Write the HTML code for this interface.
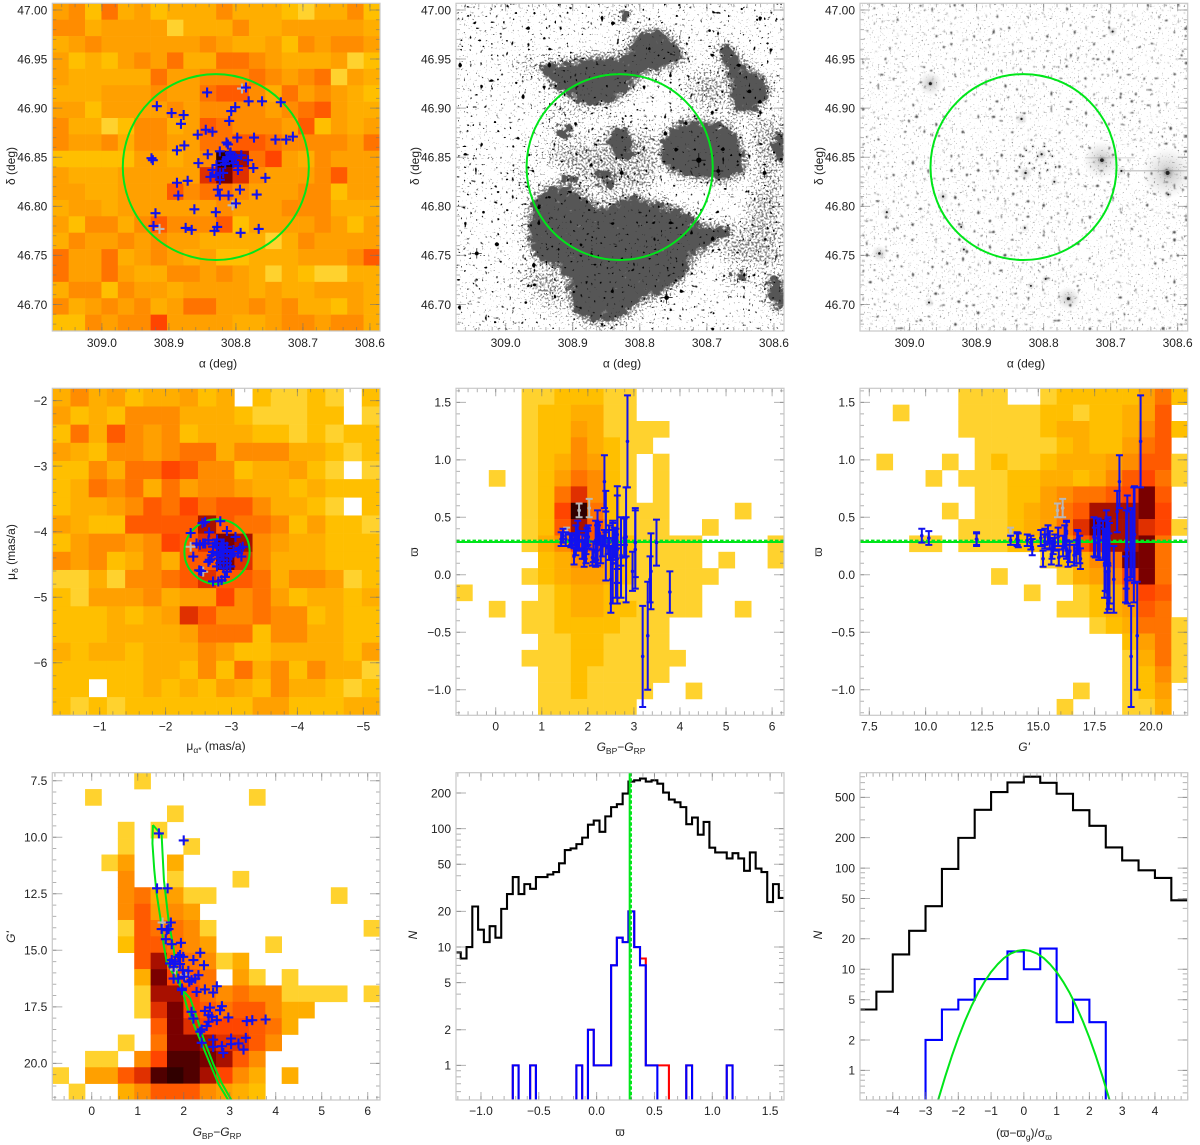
<!DOCTYPE html>
<html>
<head>
<meta charset="utf-8">
<title>Cluster diagnostic figure</title>
<style>
html,body{margin:0;padding:0;background:#fff}
svg{display:block}
text{font-family:"Liberation Sans","DejaVu Sans",sans-serif;fill:#222;font-size:12px}
</style>
</head>
<body>
<svg id="figure" xmlns="http://www.w3.org/2000/svg" width="1200" height="1145" viewBox="0 0 1200 1145">
<defs>
<clipPath id="clip-p2"><rect x="456" y="3.3" width="328" height="327.7"/></clipPath>
<clipPath id="clip-p3"><rect x="860" y="3.3" width="327.7" height="327.7"/></clipPath>
<radialGradient id="glow"><stop offset="0" stop-color="#222" stop-opacity=".55"/><stop offset=".25" stop-color="#555" stop-opacity=".24"/><stop offset="1" stop-color="#888" stop-opacity="0"/></radialGradient>
<filter id="nebula-core" filterUnits="userSpaceOnUse" x="456" y="3" width="329" height="329" color-interpolation-filters="sRGB">
<feGaussianBlur in="SourceAlpha" stdDeviation="5" result="b"/>
<feTurbulence type="fractalNoise" baseFrequency=".13" numOctaves="5" seed="11"/>
<feColorMatrix type="matrix" values="0 0 0 0 0 0 0 0 0 0 0 0 0 0 0 1 0 0 0 0" result="n"/>
<feComposite in="b" in2="n" operator="arithmetic" k1="0" k2="1" k3="1.3" k4="-.65"/>
<feComponentTransfer result="m"><feFuncA type="linear" slope="7" intercept="-3.5"/></feComponentTransfer>
<feFlood flood-color="#565656"/>
<feComposite in2="m" operator="in"/>
</filter>
<filter id="nebula-halo" filterUnits="userSpaceOnUse" x="456" y="3" width="329" height="329" color-interpolation-filters="sRGB">
<feGaussianBlur in="SourceAlpha" stdDeviation="9" result="b"/>
<feTurbulence type="fractalNoise" baseFrequency=".5" numOctaves="2" seed="5"/>
<feColorMatrix type="matrix" values="0 0 0 0 0 0 0 0 0 0 0 0 0 0 0 1 0 0 0 0" result="n"/>
<feComposite in="b" in2="n" operator="arithmetic" k1="0" k2="1" k3="1.5" k4="-.75"/>
<feComponentTransfer result="m"><feFuncA type="linear" slope="7" intercept="-2.45"/></feComponentTransfer>
<feFlood flood-color="#808080"/>
<feComposite in2="m" operator="in"/>
</filter>
<filter id="stars-small" filterUnits="userSpaceOnUse" x="456" y="3" width="329" height="329" color-interpolation-filters="sRGB">
<feTurbulence type="fractalNoise" baseFrequency=".33" numOctaves="1" seed="3"/>
<feColorMatrix type="matrix" values="0 0 0 0 0 0 0 0 0 0 0 0 0 0 0 16 0 0 0 -11"/>
</filter>
<filter id="stars-large" filterUnits="userSpaceOnUse" x="456" y="3" width="329" height="329" color-interpolation-filters="sRGB">
<feTurbulence type="fractalNoise" baseFrequency=".19" numOctaves="1" seed="21"/>
<feColorMatrix type="matrix" values="0 0 0 0 0 0 0 0 0 0 0 0 0 0 0 18 0 0 0 -12.5"/>
</filter>
<filter id="ir-fine" filterUnits="userSpaceOnUse" x="860" y="3" width="329" height="329" color-interpolation-filters="sRGB">
<feTurbulence type="fractalNoise" baseFrequency=".5" numOctaves="2" seed="9"/>
<feColorMatrix type="matrix" values="0 0 0 0 .55 0 0 0 0 .55 0 0 0 0 .55 8 0 0 0 -5.4"/>
<feGaussianBlur stdDeviation=".35"/>
</filter>
<filter id="ir-dots" filterUnits="userSpaceOnUse" x="860" y="3" width="329" height="329" color-interpolation-filters="sRGB">
<feTurbulence type="fractalNoise" baseFrequency=".26" numOctaves="1" seed="17"/>
<feColorMatrix type="matrix" values="0 0 0 0 .3 0 0 0 0 .3 0 0 0 0 .3 16 0 0 0 -11"/>
<feGaussianBlur stdDeviation=".45"/>
</filter>
<g id="nebula-shapes" transform="translate(400,0) scale(.33333)">
<polygon points="400,590 470,560 560,590 600,640 660,600 700,590 800,620 860,640 900,680 1000,680 1030,690 960,720 880,760 860,820 800,870 720,900 660,960 560,965 510,920 510,830 470,800 400,770 385,700"/>
<polygon points="400,190 500,190 590,170 680,180 700,110 770,85 830,130 860,180 800,200 720,220 700,250 640,310 540,310 470,260 430,220"/>
<polygon points="930,110 1000,150 1030,200 1090,230 1110,290 1060,330 1000,340 1000,280 985,230 960,160"/>
<polygon points="790,410 850,360 930,370 980,370 1030,450 1045,510 960,545 900,530 820,520 780,480"/>
<polygon points="470,370 525,380 510,420 480,430"/>
<polygon points="640,380 660,370 700,420 720,450 690,480 640,470 620,420"/>
<polygon points="580,520 640,510 660,550 600,570"/>
<polygon points="470,520 550,520 540,550 470,540"/>
<polygon points="970,820 1060,815 1050,835 990,850"/>
<polygon points="1110,400 1152,380 1152,500 1120,480"/>
<polygon points="640,50 680,20 700,40 670,70"/>
<polygon points="1100,830 1152,820 1152,960 1110,900"/>
</g>
<g id="nebula-faint" transform="translate(400,0) scale(.33333)" fill-opacity=".38">
<polygon points="860,200 1000,220 1000,330 900,340 850,280"/>
<polygon points="1040,560 1152,560 1152,820 1000,800 900,720 1030,680"/>
<polygon points="290,170 420,170 430,250 330,200"/>
<polygon points="320,500 400,490 400,600 360,560"/>
<polygon points="1040,340 1152,340 1152,560 1060,540"/>
<polygon points="400,300 640,320 560,360 430,340"/>
<polygon points="420,430 760,380 800,480 740,600 560,560 430,480"/>
<polygon points="350,780 500,800 500,960 380,880"/>
<polygon points="180,20 220,20 200,90"/>
</g>
</defs>
<rect x="0" y="0" width="1200" height="1145" fill="#fff"/>

<g id="image-optical" clip-path="url(#clip-p2)">
<use href="#nebula-faint" filter="url(#nebula-halo)"/>
<use href="#nebula-shapes" filter="url(#nebula-halo)"/>
<use href="#nebula-shapes" filter="url(#nebula-core)"/>
<rect x="456" y="3" width="329" height="329" filter="url(#stars-small)"/>
<rect x="456" y="3" width="329" height="329" filter="url(#stars-large)"/>
</g>
<g id="image-infrared" clip-path="url(#clip-p3)">
<rect x="860" y="3" width="329" height="329" filter="url(#ir-fine)"/>
<rect x="860" y="3" width="329" height="329" filter="url(#ir-dots)"/>
<rect x="1122" y="170" width="66" height="1.5" fill="#ccc"/>
<rect x="1085" y="157" width="50" height="1.5" fill="#e2e2e2"/>
</g>

<g id="plots"></g>

<g>
<text x="218" y="367.5" text-anchor="middle">α (deg)</text>
<text x="622" y="367.5" text-anchor="middle">α (deg)</text>
<text x="1026" y="367.5" text-anchor="middle">α (deg)</text>
<text transform="translate(15,166) rotate(-90)" text-anchor="middle">δ (deg)</text>
<text transform="translate(419,166) rotate(-90)" text-anchor="middle">δ (deg)</text>
<text transform="translate(823,166) rotate(-90)" text-anchor="middle">δ (deg)</text>

<text x="216" y="750" text-anchor="middle">μ<tspan dy="3" font-size="8.5">α*</tspan><tspan dy="-3"> (mas/a)</tspan></text>
<text transform="translate(15,552) rotate(-90)" text-anchor="middle">μ<tspan dy="3" font-size="8.5">δ</tspan><tspan dy="-3"> (mas/a)</tspan></text>
<text x="621" y="751" text-anchor="middle"><tspan font-style="italic">G</tspan><tspan dy="3" font-size="8.5">BP</tspan><tspan dy="-3">−</tspan><tspan font-style="italic">G</tspan><tspan dy="3" font-size="8.5">RP</tspan></text>
<text transform="translate(418,552) rotate(-90)" text-anchor="middle">ϖ</text>
<text x="1024" y="751" text-anchor="middle" font-style="italic">G'</text>
<text transform="translate(822,552) rotate(-90)" text-anchor="middle">ϖ</text>

<text x="217" y="1136" text-anchor="middle"><tspan font-style="italic">G</tspan><tspan dy="3" font-size="8.5">BP</tspan><tspan dy="-3">−</tspan><tspan font-style="italic">G</tspan><tspan dy="3" font-size="8.5">RP</tspan></text>
<text transform="translate(15,937) rotate(-90)" text-anchor="middle" font-style="italic">G'</text>
<text x="620" y="1136" text-anchor="middle">ϖ</text>
<text transform="translate(417,935) rotate(-90)" text-anchor="middle" font-style="italic">N</text>
<text x="1024" y="1137" text-anchor="middle">(ϖ−ϖ<tspan dy="3" font-size="8.5">g</tspan><tspan dy="-3">)/σ</tspan><tspan dy="3" font-size="8.5">ϖ</tspan></text>
<text transform="translate(822,935) rotate(-90)" text-anchor="middle" font-style="italic">N</text>
</g>
</svg>

<script>
/* ---------- colour levels ---------- */
const heatPalette = ['none','#ffd22e','#ffbf00','#ffae00','#ffa000','#ff8c00','#ff7300','#ff5a00','#ff4500','#e03000','#a81000','#7a0000','#500000','#300000'];

/* ---------- heatmaps (row 0 is the top row) ---------- */
const skyHeat = [
[4,5,2,6,3,4,2,3,3,3,5,3,3,3,2,1,3,3,5,2],
[5,5,3,4,4,4,4,1,3,3,3,5,3,3,4,4,4,4,4,3],
[3,4,5,4,4,4,4,4,4,5,4,3,3,4,2,5,4,5,5,4],
[4,2,3,2,4,5,4,6,3,3,6,6,5,4,3,3,3,4,1,2],
[4,3,3,3,3,3,6,4,4,5,5,5,6,5,4,5,6,1,4,3],
[3,3,3,4,4,4,5,4,4,6,7,7,5,3,6,4,5,4,3,2],
[4,4,2,4,4,4,4,5,4,5,5,5,5,4,5,6,7,4,3,3],
[5,3,3,1,2,5,5,3,4,7,6,5,5,5,4,7,2,4,3,4],
[5,4,4,5,3,5,5,4,4,6,6,7,7,6,5,5,5,5,4,6],
[2,2,2,2,2,4,4,3,4,5,13,10,6,8,4,3,5,4,4,4],
[4,3,3,3,4,4,4,4,4,9,11,9,5,4,4,4,5,7,4,4],
[4,4,3,3,4,4,4,7,5,6,6,5,4,4,4,5,5,2,4,4],
[3,4,4,3,4,4,4,4,4,4,5,4,4,4,5,5,5,3,3,3],
[4,2,5,5,3,5,7,5,5,5,7,2,4,4,4,4,5,4,2,4],
[3,5,4,4,5,4,5,4,4,3,3,3,3,1,3,5,4,4,4,4],
[6,4,4,6,3,4,5,4,3,4,2,2,3,3,3,4,4,4,5,7],
[6,4,4,6,4,3,3,5,5,4,5,4,3,1,3,2,1,1,3,3],
[3,5,5,2,5,4,4,3,4,4,4,4,3,4,3,3,4,4,4,3],
[5,3,4,5,4,5,3,4,6,6,4,4,5,4,5,3,3,2,4,3],
[2,2,5,4,5,5,8,4,4,4,4,3,3,4,5,5,4,5,5,3]
];
const pmHeat = [
[3,5,3,4,2,3,3,4,2,3,0,2,1,1,2,1,0,2],
[4,2,3,2,5,5,5,3,3,3,2,1,1,1,2,2,0,1],
[2,6,3,7,5,4,5,2,3,3,3,2,2,1,2,1,2,2],
[4,3,2,5,5,4,5,6,6,3,5,5,5,3,3,2,1,2],
[2,2,5,3,6,6,8,7,5,5,2,3,3,4,2,1,0,1],
[2,3,6,5,6,3,6,4,5,5,4,3,3,2,3,2,2,2],
[2,3,3,4,5,7,6,8,6,7,7,5,3,3,2,1,0,2],
[4,3,2,2,7,7,7,7,10,7,6,6,5,2,4,2,2,1],
[2,4,5,5,4,5,8,7,9,11,10,5,4,3,3,2,2,2],
[5,4,5,2,3,5,3,7,7,11,9,5,3,3,3,2,2,2],
[1,1,3,1,5,5,6,7,9,7,7,6,3,5,5,4,1,2],
[2,1,4,4,4,5,3,4,4,8,5,6,4,2,3,3,2,3],
[2,2,2,3,2,3,4,9,7,5,5,6,5,5,2,3,2,2],
[2,2,2,3,3,3,3,4,6,6,6,2,5,5,3,3,2,2],
[3,2,3,3,2,3,3,3,5,4,2,2,3,3,3,3,2,4],
[2,2,2,2,2,3,3,2,5,2,6,3,5,2,5,3,3,1],
[2,2,0,2,2,3,2,3,2,4,3,2,5,3,3,2,1,2],
[2,1,2,1,2,2,2,2,2,2,2,4,4,2,2,2,3,3]
];
const colourPlxHeat = [
[0,0,0,0,1,1,2,2,2,1,1,0,0,0,0,0,0,0,0,0],
[0,0,0,0,1,2,2,3,3,1,1,0,0,0,0,0,0,0,0,0],
[0,0,0,0,1,2,2,4,3,1,1,1,1,0,0,0,0,0,0,0],
[0,0,0,0,1,2,2,5,3,2,1,1,0,0,0,0,0,0,0,0],
[0,0,0,0,1,2,3,5,4,2,1,0,1,0,0,0,0,0,0,0],
[0,0,1,0,1,2,4,6,5,2,1,0,1,0,0,0,0,0,0,0],
[0,0,0,0,1,2,6,9,5,2,1,0,1,0,0,0,0,0,0,0],
[0,0,0,0,1,2,8,13,6,2,1,1,1,0,0,0,0,1,0,0],
[0,0,0,0,1,2,7,10,7,3,1,1,1,0,0,1,0,0,0,0],
[0,0,0,0,1,3,5,8,7,4,2,1,1,1,1,0,0,0,0,1],
[0,0,0,0,0,2,3,5,5,3,2,1,1,1,1,0,1,0,0,1],
[0,0,0,0,1,2,3,4,4,3,2,1,1,1,1,1,0,0,0,0],
[1,0,0,0,0,1,2,3,3,2,1,1,1,1,1,0,0,0,0,0],
[0,0,1,0,1,1,2,3,3,2,2,1,1,1,1,0,0,1,0,0],
[0,0,0,0,1,1,2,2,2,2,1,1,1,0,0,0,0,0,0,0],
[0,0,0,0,0,1,1,2,2,1,1,1,1,0,0,0,0,0,0,0],
[0,0,0,0,1,1,1,2,2,1,1,1,1,1,0,0,0,0,0,0],
[0,0,0,0,0,1,1,2,1,1,1,1,1,0,0,0,0,0,0,0],
[0,0,0,0,0,1,1,2,1,1,1,1,0,0,1,0,0,0,0,0],
[0,0,0,0,0,1,1,1,1,1,1,0,0,0,0,0,0,0,0,0]
];
const magPlxHeat = [
[0,0,0,0,0,0,1,1,1,0,0,1,2,2,2,2,2,4,6,2],
[0,0,1,0,0,0,1,1,1,1,1,2,2,1,2,2,3,4,7,0],
[0,0,0,0,0,0,1,1,1,1,1,2,3,3,2,2,3,5,7,2],
[0,0,0,0,0,0,0,1,1,1,1,1,2,3,2,2,4,6,7,0],
[0,1,0,0,0,1,0,1,2,1,1,2,3,3,3,4,5,7,7,1],
[0,0,0,0,1,0,1,1,1,2,2,3,3,2,3,5,7,8,6,1],
[0,0,0,0,0,0,0,1,1,2,2,4,5,6,6,7,8,11,7,0],
[0,0,0,0,0,1,0,1,1,2,3,4,6,7,10,10,10,11,8,0],
[0,0,0,0,0,0,1,1,1,2,3,4,6,9,11,10,10,9,8,1],
[0,0,0,1,1,0,1,1,1,2,2,3,5,7,9,10,10,11,6,0],
[0,0,0,0,0,0,0,0,0,0,0,1,2,3,5,6,11,11,6,0],
[0,0,0,0,0,0,0,0,1,0,0,0,1,3,4,5,8,11,6,0],
[0,0,0,0,0,0,0,0,0,0,1,0,0,1,2,3,6,8,7,0],
[0,0,0,0,0,0,0,0,0,0,0,0,1,1,2,3,4,7,6,0],
[0,0,0,0,0,0,0,0,0,0,0,0,0,0,1,2,3,6,6,1],
[0,0,0,0,0,0,0,0,0,0,0,0,0,0,0,0,2,4,6,1],
[0,0,0,0,0,0,0,0,0,0,0,0,0,0,0,0,1,3,6,1],
[0,0,0,0,0,0,0,0,0,0,0,0,0,0,0,0,1,2,5,1],
[0,0,0,0,0,0,0,0,0,0,0,0,0,1,0,0,1,2,4,0],
[0,0,0,0,0,0,0,0,0,0,0,0,1,0,0,0,1,1,3,0]
];
const cmdHeat = [
[0,0,0,0,0,1,0,0,0,0,0,0,0,0,0,0,0,0,0,0],
[0,0,1,0,0,0,0,0,0,0,0,0,1,0,0,0,0,0,0,0],
[0,0,0,0,0,0,0,1,0,0,0,0,0,0,0,0,0,0,0,0],
[0,0,0,0,1,0,1,0,0,0,0,0,0,0,0,0,0,0,0,0],
[0,0,0,0,1,0,0,0,1,0,0,0,0,0,0,0,0,0,0,0],
[0,0,0,1,4,0,0,3,0,0,0,0,0,0,0,0,0,0,0,0],
[0,0,0,0,5,0,0,1,0,0,0,1,0,0,0,0,0,0,0,0],
[0,0,0,0,5,6,3,4,1,1,0,0,0,0,0,0,0,1,0,0],
[0,0,0,0,5,7,4,5,4,0,0,0,0,0,0,0,0,0,0,0],
[0,0,0,0,1,7,6,6,5,1,0,0,0,0,0,0,0,0,0,1],
[0,0,0,0,2,7,7,6,5,4,0,0,0,1,0,0,0,0,0,0],
[0,0,0,0,0,7,10,7,6,5,1,3,0,0,0,0,0,0,0,0],
[0,0,0,0,0,3,11,8,7,6,0,4,1,0,1,0,0,0,0,0],
[0,0,0,0,0,1,10,10,8,6,5,6,5,5,1,1,1,1,0,1],
[0,0,0,0,0,1,9,11,8,7,6,7,7,5,3,3,0,0,0,0],
[0,0,0,0,0,0,7,11,9,8,8,8,7,6,3,0,0,0,0,0],
[0,0,0,0,1,0,6,11,11,10,9,9,7,5,0,0,0,0,0,0],
[0,0,1,1,0,5,8,12,12,11,10,7,5,0,0,0,0,0,0,0],
[1,0,4,4,7,9,12,13,12,10,8,5,3,0,3,0,0,0,0,0],
[0,1,0,0,3,5,7,7,7,5,4,3,2,0,0,0,0,0,0,0]
];

/* ---------- sky positions of candidate members ---------- */
const skyRA = [308.843,308.785,308.781,308.761,308.733,308.918,308.801,308.807,308.896,308.878,308.810,308.882,308.845,308.835,308.857,308.798,308.773,308.741,308.725,308.715,308.814,308.812,308.877,308.888,308.842,308.926,308.924,308.856,308.824,308.809,308.792,308.804,308.814,308.819,308.782,308.804,308.797,308.829,308.774,308.797,308.835,308.824,308.829,308.838,308.819,308.824,308.756,308.872,308.888,308.827,308.794,308.824,308.811,308.769,308.886,308.800,308.862,308.830,308.920,308.923,308.875,308.866,308.828,308.832,308.766,308.793,308.812,308.806,308.816,308.808,308.800];
const skyDec = [46.916,46.921,46.907,46.907,46.906,46.902,46.901,46.897,46.895,46.893,46.887,46.884,46.878,46.876,46.873,46.870,46.870,46.868,46.868,46.871,46.865,46.863,46.862,46.857,46.853,46.849,46.847,46.844,46.856,46.854,46.852,46.851,46.848,46.846,46.847,46.844,46.841,46.842,46.839,46.837,46.837,46.834,46.832,46.830,46.834,46.827,46.829,46.826,46.824,46.817,46.817,46.811,46.811,46.812,46.811,46.803,46.797,46.794,46.793,46.780,46.778,46.776,46.779,46.775,46.777,46.773,46.850,46.848,46.843,46.855,46.849];
const skyRejectRA = [308.791,308.805,308.914];
const skyRejectDec = [46.920,46.801,46.777];
const skyCircleRA = [308.830];
const skyCircleDec = [46.840];
const skyCircleRadius = [0.0947];

/* ---------- proper motions ---------- */
const pmRA = [-2.56,-2.60,-2.83,-2.38,-2.66,-2.93,-3.06,-2.47,-2.57,-2.65,-2.78,-2.88,-2.72,-2.83,-2.93,-3.03,-3.13,-3.17,-3.10,-3.15,-2.42,-2.67,-2.65,-2.78,-2.85,-2.80,-2.88,-2.98,-2.83,-2.93,-2.78,-2.88,-2.98,-2.93,-2.90,-2.85,-2.80,-2.72,-2.51,-2.54,-2.52,-2.72,-2.83,-2.88,-2.78,-2.75,-2.85,-2.93,-3.00,-2.70,-2.60];
const pmDec = [-3.87,-3.85,-3.84,-4.02,-4.01,-3.99,-4.08,-4.18,-4.18,-4.13,-4.12,-4.18,-4.23,-4.25,-4.23,-4.28,-4.25,-4.23,-4.33,-4.38,-4.38,-4.43,-4.46,-4.33,-4.36,-4.41,-4.43,-4.38,-4.48,-4.48,-4.53,-4.56,-4.53,-4.61,-4.69,-4.74,-4.76,-4.76,-4.59,-4.60,-4.20,-4.31,-4.31,-4.28,-4.23,-4.18,-4.18,-4.31,-4.36,-4.36,-4.18];
const pmRejectRA = [-2.38,-2.57];
const pmRejectDec = [-4.23,-4.61];
const pmCircleRA = [-2.78];
const pmCircleDec = [-4.305];
const pmCircleRadius = [0.495];

/* ---------- photometry and parallax of candidate members ---------- */
const starColour = [1.46,2.00,1.42,1.65,1.72,1.52,1.63,1.67,1.61,1.74,1.94,2.36,1.92,1.99,1.88,2.21,2.44,1.74,1.70,1.81,1.92,1.78,1.98,2.10,2.32,1.78,1.88,2.01,2.17,2.25,2.12,2.72,2.46,2.28,2.64,1.96,1.96,2.83,2.57,2.79,2.17,2.46,2.54,2.61,2.21,2.72,2.97,3.37,3.49,3.78,2.54,2.50,2.39,2.36,2.64,3.03,3.35,2.39,3.03,3.19,2.64,2.83,3.30,2.86];
const starG = [9.83,10.14,12.26,12.26,13.77,14.06,14.11,14.06,14.51,14.73,14.67,15.11,15.21,15.29,15.29,15.43,15.66,15.43,15.58,15.51,15.61,15.73,15.88,15.91,16.10,16.25,16.25,16.17,16.32,16.25,16.39,16.59,16.73,16.84,16.87,16.76,16.69,17.47,17.53,17.65,17.72,17.68,17.87,17.94,18.02,18.09,17.97,18.13,18.09,18.06,18.16,18.35,18.50,18.60,18.95,18.90,18.87,19.09,19.15,19.12,19.27,19.24,19.39,19.54];
const starPlx = [0.34,0.32,0.31,0.31,0.30,0.31,0.30,0.31,0.30,0.24,0.28,0.32,0.14,0.33,0.29,0.35,0.25,0.36,0.16,0.30,0.22,0.28,0.33,0.15,0.25,0.38,0.22,0.33,0.14,0.36,0.20,0.17,0.31,0.22,0.14,0.28,0.20,0.33,0.28,0.32,0.30,0.28,0.30,0.10,0.32,0.15,0.03,0.03,0.28,-0.15,0.10,-0.04,0.55,0.81,0.22,0.22,-0.04,0.25,0.28,-0.71,0.35,0.26,-0.53,1.16];
const starErr = [0.06,0.06,0.06,0.05,0.04,0.06,0.06,0.05,0.05,0.07,0.06,0.07,0.07,0.07,0.06,0.08,0.07,0.07,0.07,0.08,0.08,0.07,0.08,0.07,0.09,0.09,0.08,0.10,0.07,0.10,0.09,0.09,0.08,0.12,0.09,0.10,0.10,0.17,0.13,0.17,0.17,0.15,0.17,0.30,0.24,0.35,0.17,0.33,0.20,0.18,0.35,0.29,0.18,0.23,0.47,0.34,0.20,0.30,0.30,0.44,0.42,0.50,0.47,0.40];
const rejectColour = [1.54,1.81,2.03];
const rejectG = [13.77,15.85,16.08];
const rejectPlx = [0.38,0.56,0.58];
const rejectErr = [0.03,0.06,0.08];
const clusterParallax = [0.29];

/* ---------- isochrone ---------- */
const isoColour = [1.33,1.32,1.36,1.41,1.50,1.56,1.63,1.78,1.96,2.07,2.21,2.36,2.54,2.75,2.97,3.04,2.83,2.64,2.43,2.28,2.14,1.98,1.85,1.78,1.67,1.57,1.54,1.52,1.33];
const isoG = [9.46,10.27,11.45,12.48,13.67,14.70,15.51,16.10,16.69,17.50,18.24,18.97,19.86,20.89,21.63,21.63,20.89,20.01,18.90,17.94,17.13,16.76,16.03,14.92,13.67,11.90,10.72,9.90,9.46];

/* ---------- parallax histogram ---------- */
const plxBinStart = [-1.225];
const plxBinWidth = [0.05];
const plxAllCounts = [9,8,10,22,14,11,15,12,21,28,39,28,34,31,39,39,41,43,51,66,68,74,84,108,117,94,127,152,161,198,250,256,265,250,256,240,202,176,167,152,109,124,89,114,69,63,63,56,62,56,44,63,46,43,24,34,26];
const plxRedCounts = [0,0,0,0,0,0,0,0,0,0,1,0,0,1,0,0,0,0,0,0,0,1,0,2,1,1,1,7,12,11,20,10,8,1,1,1,1,0,0,0,1,0,0,0,0,0,0,1,0,0,0,0,0,0,0,0,0];
const plxBlueCounts = [0,0,0,0,0,0,0,0,0,0,1,0,0,1,0,0,0,0,0,0,0,1,0,2,1,1,1,7,12,11,20,10,7,1,1,0,0,0,0,0,1,0,0,0,0,0,0,1,0,0,0,0,0,0,0,0,0];

/* ---------- normalised residual histogram ---------- */
const resBinStart = [-5];
const resBinWidth = [0.5];
const resAllCounts = [4,6,14,24,42,98,199,377,564,703,800,697,543,374,262,160,119,95,80,48];
const resBlueCounts = [0,0,0,0,2,4,5,8,8,15,10,16,3,5,3,0,0,0,0,0];
const gaussX = [-2.8,-2.6,-2.4,-2.2,-2,-1.8,-1.6,-1.4,-1.2,-1,-0.8,-0.6,-0.4,-0.2,0,0.2,0.4,0.6,0.8,1,1.2,1.4,1.6,1.8,2,2.2,2.4,2.6,2.8];
const gaussN = [0.31,0.53,0.87,1.38,2.10,3.07,4.31,5.82,7.52,9.40,11.2,12.95,14.31,15.19,15.5,15.19,14.31,12.95,11.2,9.40,7.52,5.82,4.31,3.07,2.10,1.38,0.87,0.53,0.31];

/* ---------- field stars visible in the infrared image ---------- */
const irStarRA = [308.615,308.713,308.969,308.763,309.045,308.833,308.827,308.803,308.950,308.971,308.697,309.034,308.828,308.919,308.784,308.684,308.614,308.797,308.819,308.923,308.816,308.809,308.797,308.787,308.821,308.814,308.794,308.806,308.831,308.836,308.782,308.799,308.826,308.792];
const irStarDec = [46.834,46.847,46.925,46.706,46.752,46.889,46.834,46.853,46.810,46.702,46.978,46.794,46.778,46.756,46.825,46.836,46.812,46.726,46.719,46.779,46.861,46.851,46.844,46.851,46.844,46.839,46.837,46.834,46.851,46.840,46.840,46.861,46.857,46.856];
const irStarBrightness = [10,8.5,6.5,6.5,5,4,4.5,4,4,3.5,3.5,3.5,3,3,3,3.5,3,3,3,3,1.5,1.5,1.5,1.5,1.5,1.5,1.5,1.5,1.5,1.5,1.5,1.5,1.5,1.5];

/* ---------- field stars visible in the optical image ---------- */
const optStarRA = [308.712,308.683,308.614,308.760,309.043,308.827,308.957,308.970,309.033,308.802,308.696,308.625,308.648,308.741,309.056,308.754];
const optStarDec = [46.847,46.836,46.834,46.707,46.752,46.834,46.720,46.702,46.794,46.854,46.979,46.990,47.001,47.005,46.994,46.926];
const optStarBrightness = [7,5,5,6,5,5,4,3.5,3.5,3,3.5,3,3,3,2.5,2.5];

/* ---------- tick values and labels ---------- */
const raTicks = [309.0,308.9,308.8,308.7,308.6];
const raTickLabels = ['309.0','308.9','308.8','308.7','308.6'];
const decTicks = [47.0,46.95,46.9,46.85,46.8,46.75,46.7];
const decTickLabels = ['47.00','46.95','46.90','46.85','46.80','46.75','46.70'];
const pmXTicks = [-1,-2,-3,-4,-5];
const pmXTickLabels = ['−1','−2','−3','−4','−5'];
const pmYTicks = [-2,-3,-4,-5,-6];
const pmYTickLabels = ['−2','−3','−4','−5','−6'];
const colourTicks = [0,1,2,3,4,5,6];
const colourTickLabels = ['0','1','2','3','4','5','6'];
const plxTicks = [1.5,1.0,0.5,0.0,-0.5,-1.0];
const plxTickLabels = ['1.5','1.0','0.5','0.0','−0.5','−1.0'];
const gTicks = [7.5,10,12.5,15,17.5,20];
const gTickLabels = ['7.5','10.0','12.5','15.0','17.5','20.0'];
const plxHistXTicks = [-1,-0.5,0,0.5,1,1.5];
const plxHistXTickLabels = ['−1.0','−0.5','0.0','0.5','1.0','1.5'];
const plxHistYTicks = [1,2,5,10,20,50,100,200];
const plxHistYTickLabels = ['1','2','5','10','20','50','100','200'];
const resXTicks = [-4,-3,-2,-1,0,1,2,3,4];
const resXTickLabels = ['−4','−3','−2','−1','0','1','2','3','4'];
const resYTicks = [1,2,5,10,20,50,100,200,500];
const resYTickLabels = ['1','2','5','10','20','50','100','200','500'];

/* ---------- drawing ---------- */
const NS = 'http://www.w3.org/2000/svg';
const GREEN = '#00e61a';
const BLUE = '#1212ee';
const GREY = '#b8b8b8';
const plots = document.getElementById('plots');
let clipCounter = 0;

function make(tag, attrs, parent) {
  const el = document.createElementNS(NS, tag);
  for (const k in attrs) el.setAttribute(k, attrs[k]);
  parent.appendChild(el);
  return el;
}

function makePanel(name, box, xlim, ylim, logY) {
  const root = make('g', {}, plots);
  
  
  const id = 'clip-plot-' + (clipCounter++);
  const cp = make('clipPath', {id: id}, root);
  make('rect', {x: box[0], y: box[1], width: box[2] - box[0], height: box[3] - box[1]}, cp);
  const inner = make('g', {'clip-path': 'url(#' + id + ')'}, root);
  const X = v => box[0] + (v - xlim[0]) / (xlim[1] - xlim[0]) * (box[2] - box[0]);
  const Y = logY
    ? v => box[3] - (Math.log10(v) - Math.log10(ylim[0])) / (Math.log10(ylim[1]) - Math.log10(ylim[0])) * (box[3] - box[1])
    : v => box[1] + (v - ylim[0]) / (ylim[1] - ylim[0]) * (box[3] - box[1]);
  return {root, inner, box, xlim, ylim, logY, X, Y};
}

function drawHeat(p, grid) {
  const rows = grid.length, cols = grid[0].length;
  for (let r = 0; r < rows; r++) {
    for (let c = 0; c < cols; c++) {
      const level = grid[r][c];
      if (!level) continue;
      const xa = p.X(p.xlim[0] + (p.xlim[1] - p.xlim[0]) * c / cols);
      const xb = p.X(p.xlim[0] + (p.xlim[1] - p.xlim[0]) * (c + 1) / cols);
      const ya = p.Y(p.ylim[0] + (p.ylim[1] - p.ylim[0]) * r / rows);
      const yb = p.Y(p.ylim[0] + (p.ylim[1] - p.ylim[0]) * (r + 1) / rows);
      const cell = make('rect', {x: xa, y: ya, width: xb - xa + 0.3, height: yb - ya + 0.3, fill: heatPalette[level]}, p.inner);
      
      
    }
  }
}

function drawCrosses(p, xs, ys, colour) {
  xs.forEach((v, i) => {
    const x = p.X(v), y = p.Y(ys[i]);
    const m = make('path', {d: `M${x - 5} ${y}H${x + 5}M${x} ${y - 5}V${y + 5}`, stroke: colour, 'stroke-width': 2.1, fill: 'none'}, p.inner);
    
    
  });
}

function drawEllipse(p, cx, cy, r) {
  const rx = Math.abs(p.X(p.xlim[0] + r * 1.0 * (p.degScale || 1)) - p.X(p.xlim[0]));
  const ry = Math.abs(p.Y(p.ylim[0] + r) - p.Y(p.ylim[0]));
  const e = make('ellipse', {cx: p.X(cx), cy: p.Y(cy), rx: rx, ry: ry, fill: 'none', stroke: GREEN, 'stroke-width': 2}, p.inner);
  
  
}

function drawErrorBars(p, xs, ys, errs, colour) {
  xs.forEach((v, i) => {
    const x = p.X(v), y = p.Y(ys[i]), t = p.Y(ys[i] + errs[i]), b = p.Y(ys[i] - errs[i]);
    const bar = make('path', {d: `M${x} ${t}V${b}M${x - 3.5} ${t}H${x + 3.5}M${x - 3.5} ${b}H${x + 3.5}`, stroke: colour, 'stroke-width': 2, fill: 'none'}, p.inner);
    
    
    const dot = make('circle', {cx: x, cy: y, r: 1.8, fill: colour}, p.inner);
    
    
  });
}

function drawHLine(p, value) {
  const y = p.Y(value);
  const a = make('line', {x1: p.box[0], x2: p.box[2], y1: y + 0.5, y2: y + 0.5, stroke: GREEN, 'stroke-width': 2}, p.inner);
  
  
  const b = make('line', {x1: p.box[0], x2: p.box[2], y1: y - 1, y2: y - 1, stroke: GREEN, 'stroke-width': 1.6, 'stroke-dasharray': '3.5 2'}, p.inner);
  
  
}

function drawVLine(p, value) {
  const x = p.X(value);
  const a = make('line', {y1: p.box[1], y2: p.box[3], x1: x - 0.5, x2: x - 0.5, stroke: GREEN, 'stroke-width': 2}, p.inner);
  
  
  const b = make('line', {y1: p.box[1], y2: p.box[3], x1: x + 1, x2: x + 1, stroke: GREEN, 'stroke-width': 1.6, 'stroke-dasharray': '3.5 2'}, p.inner);
  
  
}

function drawSteps(p, start, width, counts, colour, name) {
  const under = p.box[3] + 8;
  let d = '';
  counts.forEach((n, i) => {
    const xa = p.X(start + i * width), xb = p.X(start + (i + 1) * width);
    const y = n > 0 ? p.Y(n) : under;
    d += (i === 0 ? `M${xa} ${y}` : `L${xa} ${y}`) + `L${xb} ${y}`;
  });
  const path = make('path', {d: d, fill: 'none', stroke: colour, 'stroke-width': 2.1, 'stroke-linejoin': 'miter'}, p.inner);
  
  
}

function drawPolyline(p, xs, ys, name) {
  const pts = xs.map((v, i) => p.X(v) + ',' + p.Y(ys[i])).join(' ');
  const line = make('polyline', {points: pts, fill: 'none', stroke: GREEN, 'stroke-width': 2, 'stroke-linejoin': 'round'}, p.inner);
  
  
}

function drawAxes(p, spec) {
  const g = make('g', {stroke: 'rgba(115,115,115,.55)', 'stroke-width': 1, fill: 'none'}, p.root);
  
  
  const [x0, y0, x1, y1] = p.box;
  const addV = (v, len) => {
    const x = p.X(v);
    make('path', {d: `M${x} ${y1}v${-len}M${x} ${y0}v${len}`}, g);
  };
  const addH = (v, len) => {
    const y = p.Y(v);
    make('path', {d: `M${x0} ${y}h${len}M${x1} ${y}h${-len}`}, g);
  };
  const lo = Math.min(p.xlim[0], p.xlim[1]), hi = Math.max(p.xlim[0], p.xlim[1]);
  const base = spec.xTicks[0];
  for (let k = -400; k <= 400; k++) {
    const v = base + k * spec.xMinor;
    if (v >= lo && v <= hi) addV(v, 4);
  }
  spec.xTicks.forEach(v => addV(v, 8));
  if (p.logY) {
    for (let e = -1; e <= 3; e++) for (let m = 1; m <= 9; m++) {
      const v = m * Math.pow(10, e);
      if (v >= p.ylim[0] && v <= p.ylim[1]) addH(v, 5);
    }
  } else {
    const ylo = Math.min(p.ylim[0], p.ylim[1]), yhi = Math.max(p.ylim[0], p.ylim[1]);
    for (let k = -400; k <= 400; k++) {
      const v = spec.yTicks[0] + k * spec.yMinor;
      if (v >= ylo && v <= yhi) addH(v, 4);
    }
  }
  spec.yTicks.forEach(v => addH(v, 10));
  const frame = make('rect', {x: x0, y: y0, width: x1 - x0, height: y1 - y0, fill: 'none', stroke: '#c8c8c8', 'stroke-width': 1.2}, p.root);
  
  
  spec.xTicks.forEach((v, i) => {
    const t = make('text', {x: p.X(v), y: y1 + spec.xLabelGap, 'text-anchor': 'middle'}, p.root);
    t.textContent = spec.xLabels[i];
    
    
  });
  spec.yTicks.forEach((v, i) => {
    const t = make('text', {x: x0 - 5, y: p.Y(v) + 4.3, 'text-anchor': 'end'}, p.root);
    t.textContent = spec.yLabels[i];
    
    
  });
}

function drawOpticalStars(p) {
  const layer = document.getElementById('image-optical');
  optStarRA.forEach((ra, i) => {
    const x = p.X(ra), y = p.Y(optStarDec[i]), b = optStarBrightness[i];
    const s = make('circle', {cx: x, cy: y, r: b * 0.38, fill: '#000'}, layer);
    
    
    if (b >= 5) {
      const spike = make('path', {d: `M${x - b} ${y}H${x + b}M${x} ${y - b}V${y + b}`, stroke: '#000', 'stroke-width': 0.7}, layer);
      
      
    }
  });
}

function drawInfraredStars(p) {
  const layer = document.getElementById('image-infrared');
  irStarRA.forEach((ra, i) => {
    const x = p.X(ra), y = p.Y(irStarDec[i]), b = irStarBrightness[i];
    const halo = make('circle', {cx: x, cy: y, r: b * b * 0.24 + 2, fill: 'url(#glow)'}, layer);
    
    
    const core = make('circle', {cx: x, cy: y, r: 0.5 + b * 0.16, fill: '#222'}, layer);
    
    
  });
}

const rowY = {a: [3.3, 331], b: [388.3, 715.3], c: [772.7, 1100]};
const colX = {a: [52.3, 380], b: [456, 784], c: [860, 1187.7]};
const raLim = [309.074, 308.585];
const decLim = [47.0068, 46.673];

/* panel 1: sky density */
const p1 = makePanel('sky-density-panel', [colX.a[0], rowY.a[0], colX.a[1], rowY.a[1]], raLim, decLim);
p1.degScale = 982 / 670;
drawHeat(p1, skyHeat);
drawEllipse(p1, skyCircleRA[0], skyCircleDec[0], skyCircleRadius[0]);
drawCrosses(p1, skyRejectRA, skyRejectDec, GREY);
drawCrosses(p1, skyRA, skyDec, BLUE);
const skyAxes = {xTicks: raTicks, xLabels: raTickLabels, xMinor: 0.02, yTicks: decTicks, yLabels: decTickLabels, yMinor: 0.01, xLabelGap: 16};
drawAxes(p1, skyAxes);

/* panel 2: optical image */
const p2 = makePanel('optical-image-panel', [colX.b[0], rowY.a[0], colX.b[1], rowY.a[1]], raLim, decLim);
p2.degScale = 982 / 670;
drawOpticalStars(p2);
drawEllipse(p2, skyCircleRA[0], skyCircleDec[0], skyCircleRadius[0]);
drawAxes(p2, skyAxes);

/* panel 3: infrared image */
const p3 = makePanel('infrared-image-panel', [colX.c[0], rowY.a[0], colX.c[1], rowY.a[1]], raLim, decLim);
p3.degScale = 982 / 670;
drawInfraredStars(p3);
drawEllipse(p3, skyCircleRA[0], skyCircleDec[0], skyCircleRadius[0]);
drawAxes(p3, skyAxes);

/* panel 4: proper motions */
const p4 = makePanel('proper-motion-panel', [colX.a[0], rowY.b[0], colX.a[1], rowY.b[1]], [-0.281, -5.253], [-1.811, -6.803]);
drawHeat(p4, pmHeat);
drawEllipse(p4, pmCircleRA[0], pmCircleDec[0], pmCircleRadius[0]);
drawCrosses(p4, pmRejectRA, pmRejectDec, GREY);
drawCrosses(p4, pmRA, pmDec, BLUE);
drawAxes(p4, {xTicks: pmXTicks, xLabels: pmXTickLabels, xMinor: 0.2, yTicks: pmYTicks, yLabels: pmYTickLabels, yMinor: 0.2, xLabelGap: 15});

/* panel 5: colour vs parallax */
const plxLim = [1.622, -1.222];
const p5 = makePanel('colour-parallax-panel', [colX.b[0], rowY.b[0], colX.b[1], rowY.b[1]], [-0.862, 6.258], plxLim);
drawHeat(p5, colourPlxHeat);
drawHLine(p5, clusterParallax[0]);
drawErrorBars(p5, rejectColour, rejectPlx, rejectErr, GREY);
drawErrorBars(p5, starColour, starPlx, starErr, BLUE);
drawAxes(p5, {xTicks: colourTicks, xLabels: colourTickLabels, xMinor: 0.2, yTicks: plxTicks, yLabels: plxTickLabels, yMinor: 0.1, xLabelGap: 15});

/* panel 6: magnitude vs parallax */
const p6 = makePanel('magnitude-parallax-panel', [colX.c[0], rowY.b[0], colX.c[1], rowY.b[1]], [7.087, 21.63], plxLim);
drawHeat(p6, magPlxHeat);
drawHLine(p6, clusterParallax[0]);
drawErrorBars(p6, rejectG, rejectPlx, rejectErr, GREY);
drawErrorBars(p6, starG, starPlx, starErr, BLUE);
drawAxes(p6, {xTicks: gTicks, xLabels: gTickLabels, xMinor: 0.5, yTicks: plxTicks, yLabels: plxTickLabels, yMinor: 0.1, xLabelGap: 15});

/* panel 7: colour-magnitude diagram */
const p7 = makePanel('colour-magnitude-panel', [colX.a[0], rowY.c[0], colX.a[1], rowY.c[1]], [-0.857, 6.267], [7.146, 21.62]);
drawHeat(p7, cmdHeat);
drawPolyline(p7, isoColour, isoG, 'isochrone-curve');
drawCrosses(p7, rejectColour, rejectG, GREY);
drawCrosses(p7, starColour, starG, BLUE);
drawAxes(p7, {xTicks: colourTicks, xLabels: colourTickLabels, xMinor: 0.2, yTicks: gTicks, yLabels: gTickLabels, yMinor: 0.5, xLabelGap: 15});

/* panel 8: parallax histogram */
const p8 = makePanel('parallax-histogram-panel', [colX.b[0], rowY.c[0], colX.b[1], rowY.c[1]], [-1.216, 1.62], [0.51, 297], true);
drawSteps(p8, plxBinStart[0], plxBinWidth[0], plxAllCounts, '#000', 'all-stars-histogram');
drawSteps(p8, plxBinStart[0], plxBinWidth[0], plxRedCounts, '#f00', 'all-candidates-histogram');
drawSteps(p8, plxBinStart[0], plxBinWidth[0], plxBlueCounts, '#0000ff', 'members-histogram');
drawVLine(p8, clusterParallax[0]);
drawAxes(p8, {xTicks: plxHistXTicks, xLabels: plxHistXTickLabels, xMinor: 0.1, yTicks: plxHistYTicks, yLabels: plxHistYTickLabels, xLabelGap: 15});

/* panel 9: normalised residual histogram */
const p9 = makePanel('residual-histogram-panel', [colX.c[0], rowY.c[0], colX.c[1], rowY.c[1]], [-5, 5], [0.51, 877], true);
drawSteps(p9, resBinStart[0], resBinWidth[0], resAllCounts, '#000', 'all-stars-histogram');
drawSteps(p9, resBinStart[0], resBinWidth[0], resBlueCounts, '#0000ff', 'members-histogram');
drawPolyline(p9, gaussX, gaussN, 'gaussian-fit-curve');
drawAxes(p9, {xTicks: resXTicks, xLabels: resXTickLabels, xMinor: 0.2, yTicks: resYTicks, yLabels: resYTickLabels, xLabelGap: 15});
</script>
</body>
</html>
